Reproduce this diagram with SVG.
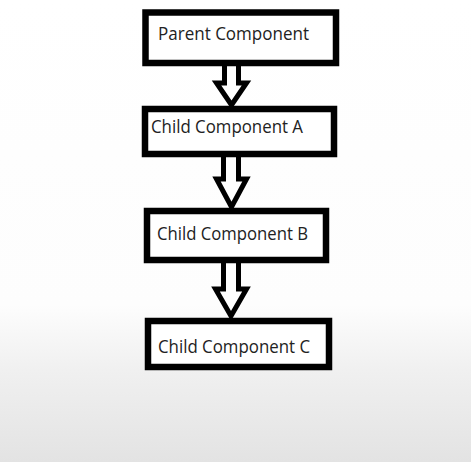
<svg xmlns="http://www.w3.org/2000/svg" width="471" height="462" viewBox="0 0 471 462">
<defs>
<linearGradient id="bg" x1="0" y1="0" x2="0" y2="1">
<stop offset="0" stop-color="#ffffff"/>
<stop offset="0.66" stop-color="#fdfdfd"/>
<stop offset="0.8" stop-color="#f0f0f0"/>
<stop offset="1" stop-color="#e3e3e3"/>
</linearGradient>
<style>
.box{fill:#ffffff;stroke:#000000;stroke-width:6.5}
.arrow{fill:#ffffff;stroke:#000000;stroke-width:5;stroke-linejoin:miter}
.label{font-family:"Open Sans","Noto Sans","DejaVu Sans",sans-serif;font-size:17.5px;fill:#222222}
</style>
</defs>
<rect x="0" y="0" width="471" height="462" fill="url(#bg)"/>
<g id="connectors">
<path class="arrow" d="M224.5,60 V83 H216.5 L231.5,105 L246.5,83 H238.5 V60"/>
<path class="arrow" d="M223.5,152 V179 H216.5 L231.5,207 L246.5,179 H238.5 V152"/>
<path class="arrow" d="M223.5,258 V289 H215.5 L231,316 L246.5,289 H238.5 V258"/>
</g>
<g id="parent">
<rect class="box" x="145.5" y="12.5" width="190.5" height="50.5"/>
<text class="label" x="158" y="39.5" textLength="151" lengthAdjust="spacingAndGlyphs">Parent Component</text>
</g>
<g id="childA">
<rect class="box" x="145" y="109" width="189" height="45"/>
<text class="label" x="151" y="133" textLength="152" lengthAdjust="spacingAndGlyphs">Child Component A</text>
</g>
<g id="childB">
<rect class="box" x="147" y="211" width="179" height="49"/>
<text class="label" x="157" y="240" textLength="151" lengthAdjust="spacingAndGlyphs">Child Component B</text>
</g>
<g id="childC">
<rect class="box" x="148" y="321" width="181" height="46"/>
<text class="label" x="158" y="352.5" textLength="152" lengthAdjust="spacingAndGlyphs">Child Component C</text>
</g>
</svg>
